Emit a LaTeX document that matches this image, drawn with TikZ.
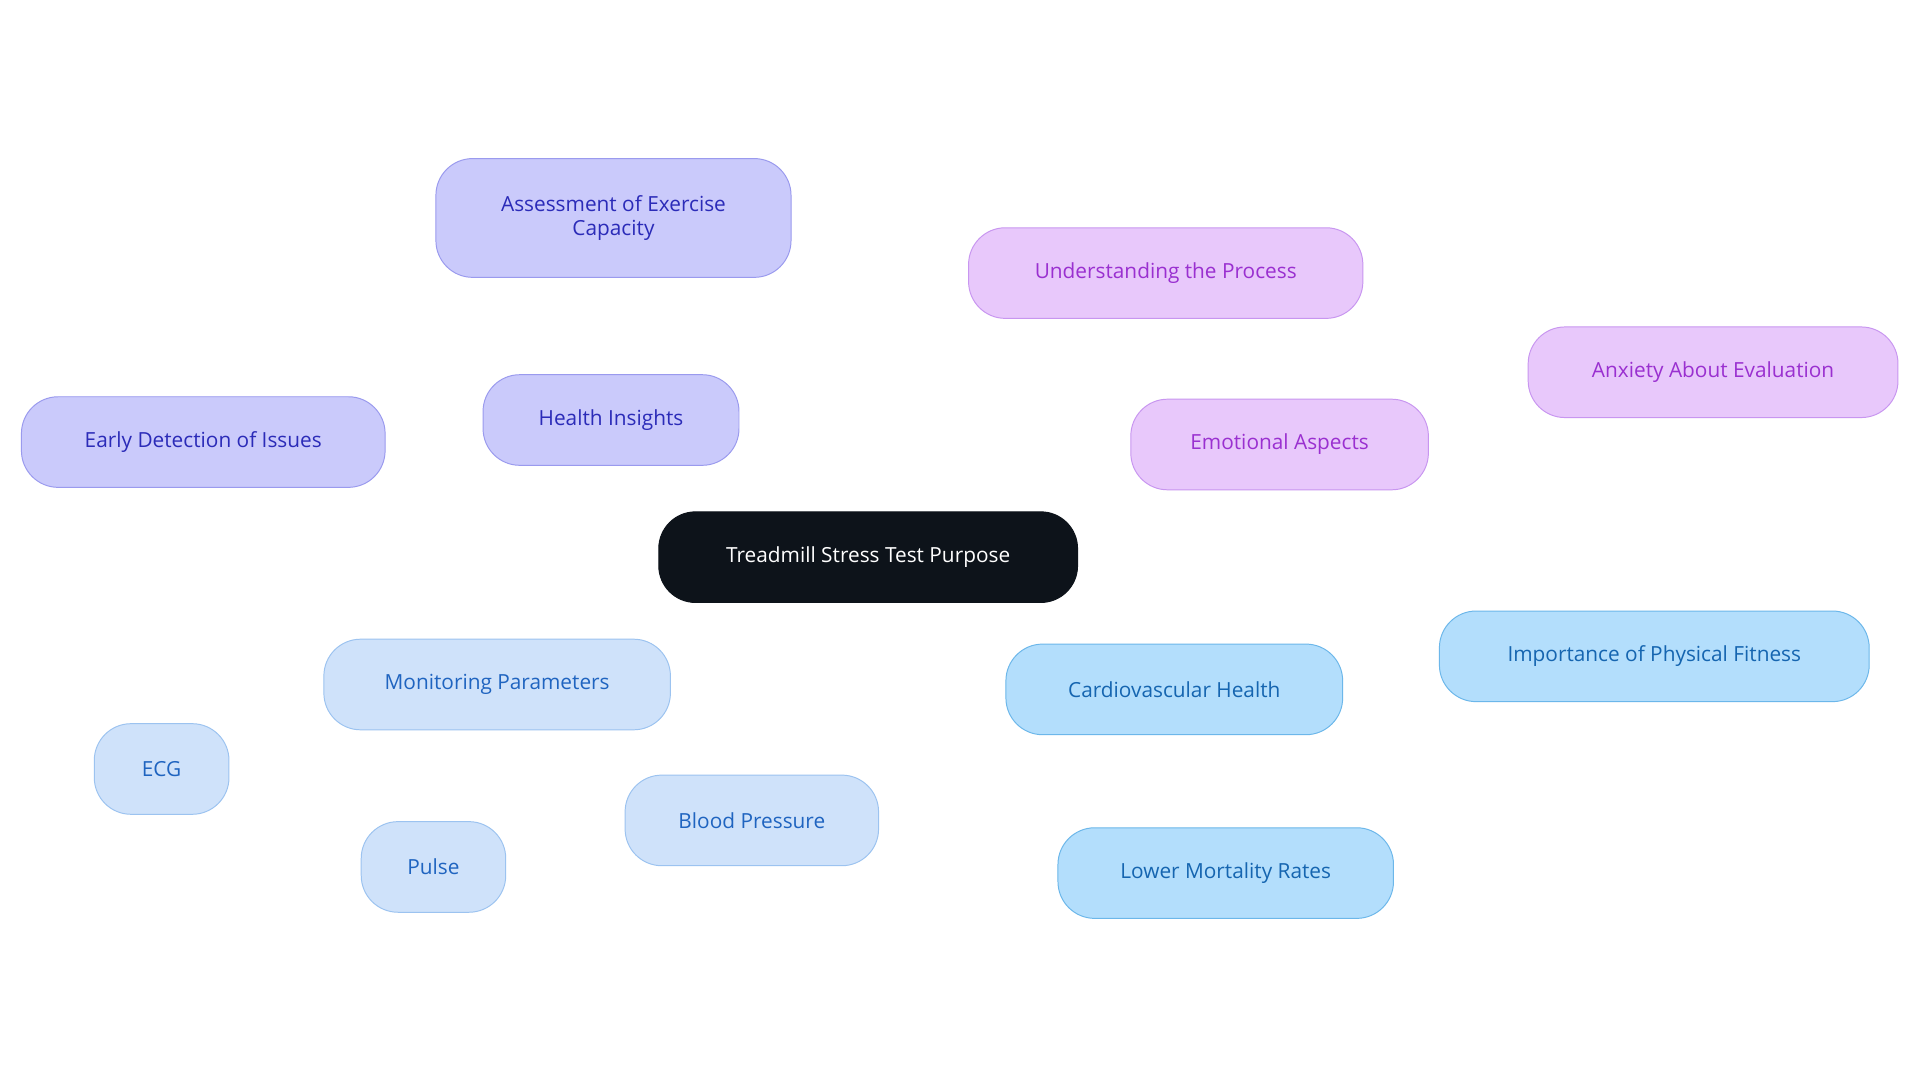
\documentclass[tikz,border=0pt]{standalone}
\usepackage{fontspec}
\setmainfont{Open Sans}
\usetikzlibrary{backgrounds}
\definecolor{rootf}{HTML}{0D131A}
\definecolor{hif}{HTML}{CACAFB}\definecolor{hid}{HTML}{9A9AEE}\definecolor{hit}{HTML}{2B2BB8}
\definecolor{emf}{HTML}{E8C8FB}\definecolor{emd}{HTML}{C896F0}\definecolor{emt}{HTML}{9A30D0}
\definecolor{mof}{HTML}{CFE2FA}\definecolor{mod}{HTML}{9CC3F0}\definecolor{mot}{HTML}{1F64C0}
\definecolor{caf}{HTML}{B3DEFC}\definecolor{cad}{HTML}{6CB7EA}\definecolor{cat}{HTML}{1565B0}
\tikzset{
 box/.style={rounded corners=30pt,minimum height=74pt,align=center,font=\fontsize{17}{20}\selectfont,inner sep=0pt,line width=0.8pt},
 hi/.style={box,fill=hif,draw=hid,text=hit},
 em/.style={box,fill=emf,draw=emd,text=emt},
 mo/.style={box,fill=mof,draw=mod,text=mot},
 ca/.style={box,fill=caf,draw=cad,text=cat},
 ed/.style={line width=2.5pt},
}
\begin{document}
\begin{tikzpicture}[x=1pt,y=-1pt]
\useasboundingbox (0,0) rectangle (1568,884);
\fill[white] (0,0) rectangle (1568,884);
\node[box,fill=rootf,draw=rootf,text=white,minimum width=342pt] (root) at (709,455) {Treadmill Stress Test Purpose};
\node[hi,minimum width=209pt] (hi) at (499,343) {Health Insights};
\node[hi,minimum width=290pt,minimum height=97pt] (ass) at (501,178) {Assessment of Exercise\\Capacity};
\node[hi,minimum width=297pt] (ear) at (166,361) {Early Detection of Issues};
\node[em,minimum width=243pt] (em) at (1045,363) {Emotional Aspects};
\node[em,minimum width=322pt] (und) at (952,223) {Understanding the Process};
\node[em,minimum width=302pt] (anx) at (1399,304) {Anxiety About Evaluation};
\node[mo,minimum width=283pt] (mo) at (406,559) {Monitoring Parameters};
\node[mo,minimum width=110pt] (ecg) at (132,628) {ECG};
\node[mo,minimum width=118pt] (pul) at (354,708) {Pulse};
\node[mo,minimum width=207pt] (bp) at (614,670) {Blood Pressure};
\node[ca,minimum width=275pt] (ca) at (959,563) {Cardiovascular Health};
\node[ca,minimum width=351pt] (imp) at (1351,536) {Importance of Physical Fitness};
\node[ca,minimum width=274pt] (low) at (1001,713) {Lower Mortality Rates};
\begin{scope}[on background layer]
\draw[ed,hid] (root) -- (hi) (hi) -- (ass) (hi) -- (ear);
\draw[ed,emd] (root) -- (em) (em) -- (und) (em) -- (anx);
\draw[ed,mod] (root) -- (mo) (mo) -- (ecg) (mo) -- (pul) (mo) -- (bp);
\draw[ed,cad] (root) -- (ca) (ca) -- (imp) (ca) -- (low);
\end{scope}
\end{tikzpicture}
\end{document}
